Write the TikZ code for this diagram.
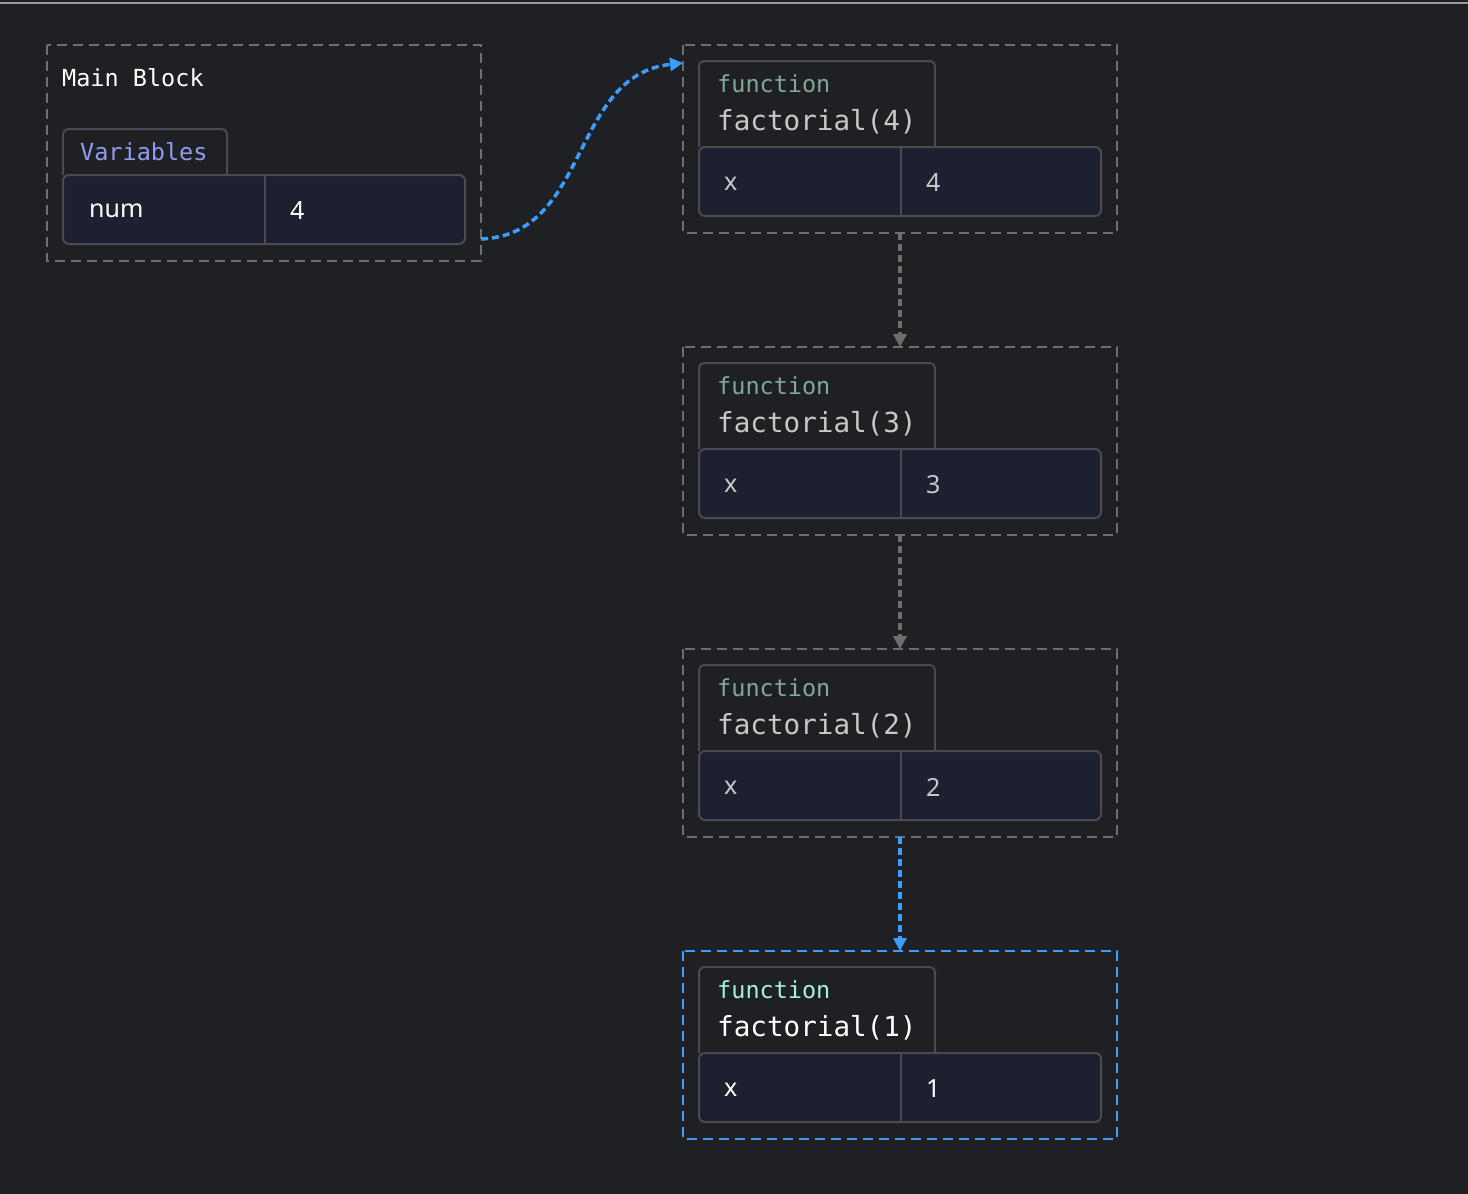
\documentclass[tikz,border=0pt]{standalone}
\usepackage{fontspec}
\setmainfont{Noto Sans}
\setmonofont{DejaVu Sans Mono}
\usetikzlibrary{arrows.meta}
\definecolor{bg}{HTML}{1F2024}
\definecolor{rowfill}{HTML}{1C2030}
\definecolor{edge}{HTML}{4A4B52}
\definecolor{dgray}{HTML}{6E6E6E}
\definecolor{blue}{HTML}{3B9EFF}
\definecolor{fninact}{HTML}{7FA89A}
\definecolor{fnact}{HTML}{A5F0E0}
\definecolor{txtin}{HTML}{C8C8C8}
\definecolor{varc}{HTML}{8F9CF0}
\tikzset{
  frame/.style={draw=dgray, dash pattern=on 10pt off 6pt, line width=2pt},
  aframe/.style={draw=blue, dash pattern=on 10pt off 6pt, line width=2pt},
  tabbox/.style={draw=edge, line width=2pt, fill=bg},
  rowbox/.style={draw=edge, line width=2pt, fill=rowfill},
  mono/.style={font=\ttfamily\fontsize{23.5}{26}\selectfont, inner sep=0pt, anchor=west},
  bigmono/.style={font=\ttfamily\fontsize{27.6}{30}\selectfont, inner sep=0pt, anchor=west},
  val/.style={font=\fontsize{25}{28}\selectfont, inner sep=0pt, anchor=west},
  conn/.style={line width=3.5pt, dash pattern=on 7pt off 4pt, -{Triangle[length=13pt,width=13pt]}},
}
\begin{document}
\begin{tikzpicture}[x=1pt,y=-1pt]
\fill[bg] (0,0) rectangle (1468,1194);
\useasboundingbox (0,0) rectangle (1468,1194);
\draw[dgray!70, line width=2pt] (0,3) -- (1468,3);
% main block
\draw[frame] (47,45) rectangle (481,261);
\node[mono, text=white] (mb) at (62,78) {Main Block};
\draw[tabbox, rounded corners=5pt] (63,175) -- (63,129) -- (227,129) -- (227,175);
\node[mono, text=varc] (vars) at (80,152) {Variables};
\draw[rowbox, rounded corners=6pt] (63,175) rectangle (465,244);
\draw[edge, line width=2pt] (265,175) -- (265,244);
\node[val, text=white] (num) at (89,211) {num};
\node[val, text=white] (numv) at (290,211) {4};
\coordinate (mbout) at (481,239);
% frames
\foreach \i/\n/\fc/\tc/\fr in {0/4/fninact/txtin/frame, 1/3/fninact/txtin/frame, 2/2/fninact/txtin/frame, 3/1/fnact/white/aframe}{
  \begin{scope}[yshift=-302*\i]
  \draw[\fr] (683,45) rectangle (1117,233);
  \draw[tabbox, rounded corners=5pt] (699,147) -- (699,61) -- (935,61) -- (935,147);
  \node[mono, text=\fc] at (717,84) {function};
  \node[bigmono, text=\tc] at (717,122) {factorial(\n)};
  \draw[rowbox, rounded corners=6pt] (699,147) rectangle (1101,216);
  \draw[edge, line width=2pt] (901,147) -- (901,216);
  \node[val, text=\tc] at (724,184) {x};
  \node[val, text=\tc] at (926,183) {\n};
  \coordinate (top\i) at (900,45);
  \coordinate (bot\i) at (900,233);
  \coordinate (lt\i) at (683,63);
  \end{scope}
}
\draw[conn, blue] (mbout) .. controls (590,235) and (570,75) .. (lt0);
\draw[conn, dgray] (bot0) -- (top1);
\draw[conn, dgray] (bot1) -- (top2);
\draw[conn, blue] (bot2) -- (top3);
\end{tikzpicture}
\end{document}
